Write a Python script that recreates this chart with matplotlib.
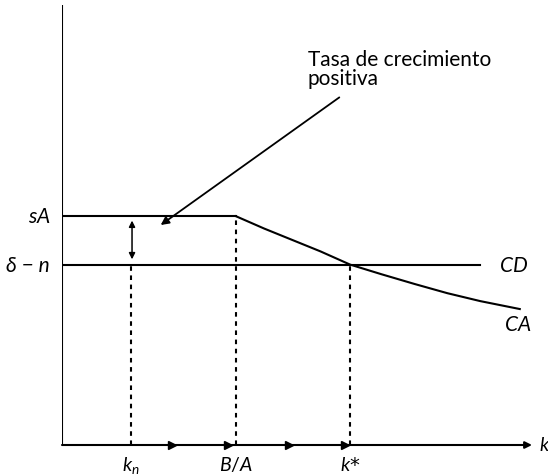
import matplotlib
matplotlib.use("Agg")
import matplotlib.pyplot as plt

# Savings curve CA (sA flat up to B/A, then declining) and depreciation line CD
sA = 5.2
delta_n = 4.1
k_n = 1.47
B_over_A = 3.70
k_star = 6.13
ca_k = [3.70, 4.30, 4.90, 5.50, 6.13, 6.80, 7.50, 8.20, 8.90, 9.74]
ca_y = [5.20, 4.92, 4.66, 4.40, 4.10, 3.88, 3.66, 3.45, 3.27, 3.09]
cd_end = 8.9
flow_arrows = [2.34, 3.53, 4.83, 6.02]
tick_labels = ["$k_n$", "$B/A$", "$k$*"]

W_PX, H_PX = 548, 477
fig = plt.figure(figsize=(W_PX / 100, H_PX / 100), dpi=100)
ox, oy = 62, 446          # origin in pixels
sx, sy = 47.0, 44.0       # pixels per unit
ax = fig.add_axes([ox / W_PX, 0, (W_PX - ox) / W_PX, 1])
ax.set_xlim(0, (W_PX - ox) / sx)
ax.set_ylim(-(H_PX - oy) / sy, oy / sy)
ax.axis("off")

FONT = ["Lato", "DejaVu Sans"]
lw = 1.5
plt.rcParams["mathtext.fontset"] = "custom"
plt.rcParams["mathtext.it"] = "Lato:italic"
plt.rcParams["mathtext.rm"] = "Lato"

# Axes
ax.plot([0, 0], [0, 10.0], color="black", lw=lw, solid_capstyle="butt")
ax.annotate("", xy=(10.0, 0), xytext=(0, 0),
            arrowprops=dict(arrowstyle="-|>", color="black", lw=lw,
                            mutation_scale=10, shrinkA=0, shrinkB=0))
ax.text(10.15, 0, "k", fontsize=14, fontstyle="italic", family=FONT,
        va="center", ha="left")

# Flow direction markers on the k axis
ax.plot(flow_arrows, [0] * len(flow_arrows), linestyle="none", marker=">",
        color="black", markersize=6)

# CA: flat segment then declining curve
ax.plot([0, B_over_A], [sA, sA], color="black", lw=lw)
ax.plot(ca_k, ca_y, color="black", lw=lw)
# CD
ax.plot([0, cd_end], [delta_n, delta_n], color="black", lw=lw)

# Dotted guides
for kv, yv in [(k_n, delta_n), (B_over_A, sA), (k_star, delta_n)]:
    ax.plot([kv, kv], [0, yv], color="black", lw=1.5, linestyle=(0, (2.2, 2.2)))

# Growth gap double arrow
ax.annotate("", xy=(1.49, sA - 0.1), xytext=(1.49, delta_n + 0.12),
            arrowprops=dict(arrowstyle="<|-|>", color="black", lw=1.1,
                            mutation_scale=9, shrinkA=0, shrinkB=0))

# Axis labels
ax.text(-0.25, sA, "$sA$", fontsize=15, ha="right", va="center")
ax.text(-0.25, delta_n, "δ − n", fontsize=15, family=FONT, fontstyle="italic",
        ha="right", va="center")
ax.text(9.3, delta_n, "$CD$", fontsize=15, ha="left", va="center")
ax.text(9.4, 2.75, "$CA$", fontsize=15, ha="left", va="center")

for kv, lab in zip([k_n, B_over_A, k_star], tick_labels):
    ax.text(kv, -0.45, lab, fontsize=14, ha="center", va="center")

# Annotation
ax.text(5.23, 8.55, "Tasa de crecimiento\npositiva", fontsize=15, family=FONT,
        ha="left", va="center", linespacing=0.95)
ax.annotate("", xy=(2.1, 5.0), xytext=(5.9, 7.9),
            arrowprops=dict(arrowstyle="-|>", color="black", lw=1.3,
                            mutation_scale=12, shrinkA=0, shrinkB=0))

fig.savefig("out.png", dpi=100)
